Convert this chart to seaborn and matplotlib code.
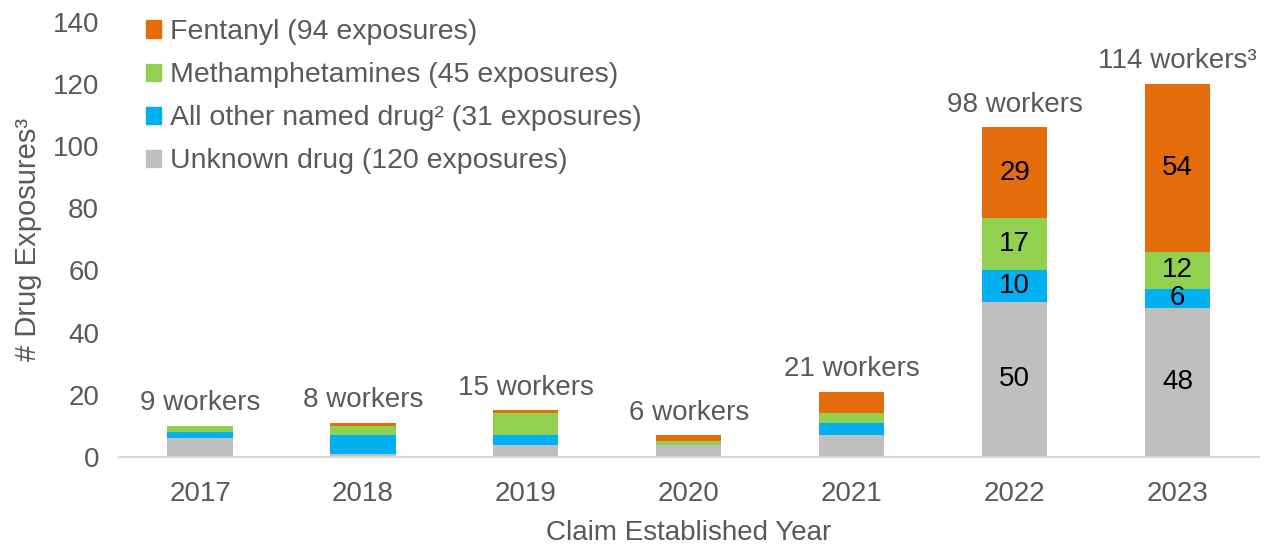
import matplotlib
matplotlib.use("Agg")
import matplotlib.pyplot as plt
import matplotlib.patches as mpatches
import seaborn as sns
import numpy as np
import pandas as pd

# data
years = ["2017", "2018", "2019", "2020", "2021", "2022", "2023"]
unknown = [6, 1, 4, 4, 7, 50, 48]
other = [2, 6, 3, 0, 4, 10, 6]
meth = [2, 3, 7, 1, 3, 17, 12]
fentanyl = [0, 1, 1, 2, 7, 29, 54]
worker_labels = ["9 workers", "8 workers", "15 workers", "6 workers",
                 "21 workers", "98 workers", "114 workers³"]
series_names = ["Unknown drug (120 exposures)", "All other named drug² (31 exposures)",
                "Methamphetamines (45 exposures)", "Fentanyl (94 exposures)"]
series_colors = ["#BFBFBF", "#00B0F0", "#92D050", "#E46C0A"]
# years with value labels inside the segments
labelled_years = ["2022", "2023"]

sns.set_style("white")
plt.rcParams['font.family'] = ['Liberation Sans', 'DejaVu Sans']
text_grey = "#595959"
fs = 20

fig, ax = plt.subplots(figsize=(12.68, 5.45), dpi=100)
fig.subplots_adjust(left=0.0935, right=0.993, bottom=0.1615, top=0.96)

layers = [unknown, other, meth, fentanyl]
cum = np.cumsum(np.array(layers), axis=0)

# draw from the top of the stack down so each layer covers the one above it
for i in range(len(layers) - 1, -1, -1):
    df = pd.DataFrame({"year": years, "value": cum[i]})
    sns.barplot(data=df, x="year", y="value", color=series_colors[i],
                width=0.4, saturation=1, linewidth=0, ax=ax, zorder=2)

# totals labels
totals = cum[-1]
for x, (t, lab) in enumerate(zip(totals, worker_labels)):
    ax.annotate(lab, (x, t), xytext=(0, 7), textcoords="offset points",
                ha="center", va="bottom", fontsize=fs, color=text_grey)

# values inside segments
for x, yr in enumerate(years):
    if yr not in labelled_years:
        continue
    base = 0
    for vals in layers:
        v = vals[x]
        ax.text(x, base + v / 2, str(v), ha="center", va="center",
                fontsize=fs, color="black", zorder=3)
        base += v

ax.set_ylim(0, 140)
ax.set_xlim(-0.5, 6.5)
ax.set_yticks(range(0, 141, 20))
ax.tick_params(axis="both", labelsize=fs, colors=text_grey, length=0)
ax.tick_params(axis="y", pad=14)
ax.tick_params(axis="x", pad=17)
ax.set_xlabel("Claim Established Year", fontsize=fs, color=text_grey, labelpad=10)
ax.set_ylabel("# Drug Exposures³", fontsize=21, color=text_grey, labelpad=8)
for s in ["top", "right", "left"]:
    ax.spines[s].set_visible(False)
ax.spines["bottom"].set_color("#D9D9D9")
ax.spines["bottom"].set_linewidth(1.5)

handles = [mpatches.Patch(color=c, label=n) for c, n in zip(series_colors, series_names)]
leg = fig.legend(handles=handles[::-1], loc="upper left", bbox_to_anchor=(0.115, 0.965),
                 frameon=False, fontsize=20.5, handlelength=0.55, handleheight=0.55,
                 handletextpad=0.3, labelspacing=0.6, borderpad=0, borderaxespad=0)
for t in leg.get_texts():
    t.set_color(text_grey)

fig.savefig("out.png", dpi=100)
